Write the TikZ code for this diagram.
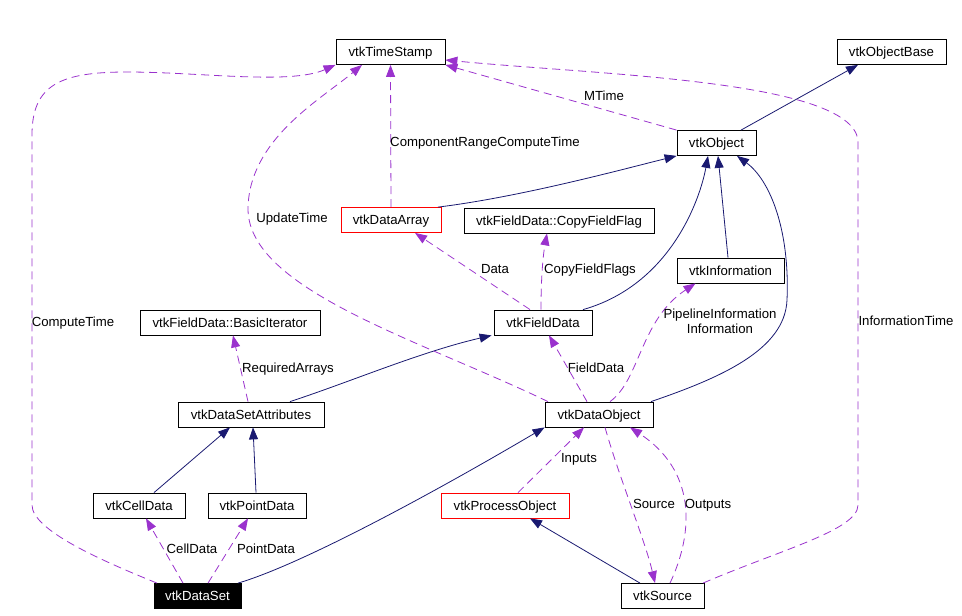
\documentclass[tikz,border=0pt]{standalone}
\usepackage{fontspec}
\setmainfont{Liberation Sans}
\usetikzlibrary{arrows.meta}
\definecolor{inhblue}{HTML}{191970}
\definecolor{usepurple}{HTML}{9A32CD}
\tikzset{
  cls/.style={draw=black, line width=0.8pt, inner sep=0pt, minimum height=25pt, text height=11pt, text depth=2pt, font=\fontsize{13.2}{15}\selectfont},
  clsred/.style={cls, draw=red},
  clsmain/.style={cls, fill=black, text=white},
  inherit/.style={draw=inhblue, line width=0.8pt, -{Triangle[length=12pt,width=9pt,fill=inhblue]}},
  uses/.style={draw=usepurple, line width=0.8pt, dash pattern=on 8pt off 5pt, -{Triangle[length=12pt,width=9pt,fill=usepurple]}},
  lbl/.style={inner sep=0pt, text height=11pt, text depth=2pt, font=\fontsize{13.2}{15}\selectfont}
}
\begin{document}
\begin{tikzpicture}[x=1pt,y=-1pt]
  \useasboundingbox (0,0) rectangle (962,616);
  \foreach \n/\x/\y/\w/\s/\t in {
      ts/390.5/52/109/cls/vtkTimeStamp,
      objbase/891.5/52/109/cls/vtkObjectBase,
      obj/716.5/143/79/cls/vtkObject,
      darr/391/220/100/clsred/vtkDataArray,
      cff/559/220.5/190/cls/vtkFieldData::CopyFieldFlag,
      info/730.5/270.5/107/cls/vtkInformation,
      fd/543/322.5/98/cls/vtkFieldData,
      biter/230/322.5/180/cls/vtkFieldData::BasicIterator,
      dsa/251/414.5/146/cls/vtkDataSetAttributes,
      dobj/599/414.5/108/cls/vtkDataObject,
      cell/139/505.5/92/cls/vtkCellData,
      point/257/505.5/98/cls/vtkPointData,
      proc/505/505.5/128/clsred/vtkProcessObject,
      ds/197.5/596/87/clsmain/vtkDataSet,
      src/662.5/596/83/cls/vtkSource} {
    \node[\s, minimum width=\w pt] (\n) at (\x,\y) {\t};
  }
  % inheritance
  \draw[inherit] ([xshift=24.5pt]obj.north) -- ([xshift=-33.5pt]objbase.south);
  \draw[inherit] ([xshift=47pt]darr.north) .. controls (520,197) and (620,170) .. (obj.south west);
  \draw[inherit] ([xshift=40pt]fd.north) .. controls (670,285) and (700,200) .. ([xshift=-8.5pt]obj.south);
  \draw[inherit] ([xshift=-2.5pt]info.north) -- ([xshift=1.5pt]obj.south);
  \draw[inherit] ([xshift=52pt]dobj.north) .. controls (720,378) and (785,350) .. (787,300)
    .. controls (790,230) and (770,180) .. ([xshift=20.5pt]obj.south);
  \draw[inherit] ([xshift=39pt]dsa.north) .. controls (350,382) and (420,352) .. ([xshift=-2pt]fd.south west);
  \draw[inherit] ([xshift=15pt]cell.north) -- ([xshift=-21pt]dsa.south);
  \draw[inherit] ([xshift=-1pt]point.north) -- ([xshift=2pt]dsa.south);
  \draw[inherit] ([xshift=40.5pt]ds.north) .. controls (300,565) and (430,495) .. (dobj.south west);
  \draw[inherit] ([xshift=-22.5pt]src.north) -- ([xshift=25pt]proc.south);
  % usage
  \draw[uses] (darr.north) -- (ts.south);
  \draw[uses] (obj.north west) -- (ts.south east);
  \draw[uses] ([xshift=40.5pt]src.north) .. controls (780,550) and (858,530) .. (858,505) -- (858,140)
    .. controls (850,80) and (600,75) .. ([yshift=-8pt]ts.east);
  \draw[uses] ([xshift=-40.5pt]ds.north) .. controls (100,560) and (32,530) .. (32,505) -- (32,135)
    .. controls (32,85) and (60,72) .. (127,72) .. controls (200,72) and (290,85) .. (ts.south west);
  \draw[uses] ([xshift=-51pt]dobj.north) .. controls (420,340) and (250,290) .. (248,210)
    .. controls (248,140) and (320,100) .. ([xshift=-28.5pt]ts.south);
  \draw[uses] ([xshift=-13pt]fd.north) -- ([xshift=24pt]darr.south);
  \draw[uses] ([xshift=-2pt]fd.north) .. controls (541,270) and (544,250) .. ([xshift=-12pt]cff.south);
  \draw[uses] ([xshift=11pt]dobj.north) .. controls (640,380) and (640,320) .. ([xshift=-35pt]info.south);
  \draw[uses] ([xshift=-12pt]dobj.north) -- ([xshift=6pt]fd.south);
  \draw[uses] ([xshift=-3pt]dsa.north) -- ([xshift=3pt]biter.south);
  \draw[uses] ([xshift=-14.5pt]ds.north) -- ([xshift=7pt]cell.south);
  \draw[uses] ([xshift=10.5pt]ds.north) -- ([xshift=-9pt]point.south);
  \draw[uses] ([xshift=13pt]proc.north) -- ([xshift=-15pt]dobj.south);
  \draw[uses] ([xshift=6pt]dobj.south) .. controls (620,480) and (645,540) .. ([xshift=-7.5pt]src.north);
  \draw[uses] ([xshift=7.5pt]src.north) .. controls (695,530) and (695,470) .. ([xshift=31pt]dobj.south);
  % labels
  \node[lbl] (lrange) at (485,142) {ComponentRangeComputeTime};
  \node[lbl] (lmtime) at (604,96) {MTime};
  \node[lbl] (linfotime) at (906,321) {InformationTime};
  \node[lbl] (lcompute) at (73,322) {ComputeTime};
  \node[lbl] (lupdate) at (292,218) {UpdateTime};
  \node[lbl] (ldata) at (495,269) {Data};
  \node[lbl] (lflags) at (590,269) {CopyFieldFlags};
  \node[lbl] (lpipe) at (720,314) {PipelineInformation};
  \node[lbl] (linfo) at (720,329) {Information};
  \node[lbl] (lfield) at (596,368) {FieldData};
  \node[lbl] (lreq) at (288,368) {RequiredArrays};
  \node[lbl] (lcell) at (192,549) {CellData};
  \node[lbl] (lpoint) at (266,549) {PointData};
  \node[lbl] (linputs) at (579,458) {Inputs};
  \node[lbl] (lsource) at (654,504) {Source};
  \node[lbl] (loutputs) at (708,504) {Outputs};
\end{tikzpicture}
\end{document}
